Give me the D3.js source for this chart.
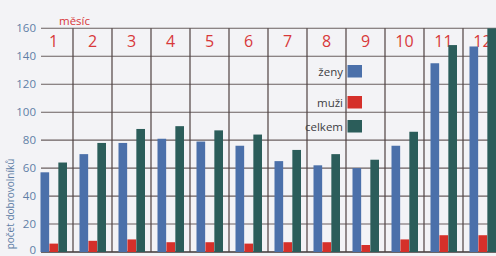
<!DOCTYPE html>
<html><head><meta charset="utf-8">
<script src="https://cdn.jsdelivr.net/npm/d3@7/dist/d3.min.js"></script>
<style>body{margin:0;background:#f3f3f6;}svg{display:block;}</style>
</head><body>
<svg id="c" width="496" height="256"></svg>
<script>
const months = ["1","2","3","4","5","6","7","8","9","10","11","12"];
const zeny   = [57, 70, 78, 81, 79, 76, 65, 62, 60, 76, 135, 147];
const muzi   = [6, 8, 9, 7, 7, 6, 7, 7, 5, 9, 12, 12];
const celkem = [64, 78, 88, 90, 87, 84, 73, 70, 66, 86, 148, 160];
const yTicks = [0, 20, 40, 60, 80, 100, 120, 140, 160];
const seriesNames = ["ženy", "muži", "celkem"];
const seriesKeys = ["zeny", "muzi", "celkem"];
const colors = {zeny:"#4b70aa", muzi:"#d5302a", celkem:"#2b5d5a"};

const svg = d3.select("#c");
svg.append("rect").attr("width",496).attr("height",256).attr("fill","#f3f3f6");

const x0 = d3.scaleBand().domain(months).range([34, 502]).paddingInner(0);
const x1 = d3.scaleBand().domain(seriesKeys).range([6.5, 33]).paddingInner(0.03);
const y = d3.scaleLinear().domain([0,160]).range([252, 28.3]);
const plotLeft = 41, plotRight = 496;

// horizontal gridlines
svg.append("g").selectAll("line").data(yTicks).join("line")
  .attr("x1", plotLeft).attr("x2", plotRight)
  .attr("y1", d=>y(d)).attr("y2", d=>y(d))
  .attr("stroke", d=> d===0 ? "#3e3636" : "#6a5f5f").attr("stroke-width", d=> d===0?1.4:1.1);

// vertical band dividers
svg.append("g").selectAll("line").data(months.slice(1)).join("line")
  .attr("x1", d=>x0(d)).attr("x2", d=>x0(d))
  .attr("y1", y(160)).attr("y2", y(0))
  .attr("stroke", "#4f4242").attr("stroke-width", 1.2);

// y tick labels
svg.append("g").selectAll("text").data(yTicks).join("text")
  .attr("x", 36).attr("y", d=>Math.min(y(d)+4, 254))
  .attr("text-anchor","end")
  .attr("font-family","'Open Sans', sans-serif").attr("font-size", 11.5)
  .attr("fill","#5f7ea6").text(d=>d);

// y axis title
svg.append("text")
  .attr("transform","translate(14,204) rotate(-90)")
  .attr("text-anchor","middle")
  .attr("font-family","'Open Sans', sans-serif").attr("font-size", 10)
  .attr("fill","#5f7ea6").text("počet dobrovolníků");

// month labels
svg.append("g").selectAll("text").data(months).join("text")
  .attr("x", d=>x0(d)+x0.bandwidth()/2).attr("y", 47)
  .attr("text-anchor","middle")
  .attr("font-family","'Open Sans', sans-serif").attr("font-size", 16)
  .attr("fill","#d8383a").text(d=>d);

svg.append("text").attr("x", 59).attr("y", 25)
  .attr("font-family","'Open Sans', sans-serif").attr("font-size", 11.5)
  .attr("fill","#d8383a").text("měsíc");

// bars
const data = months.map((m,i)=>({m, zeny:zeny[i], muzi:muzi[i], celkem:celkem[i]}));
const g = svg.append("g");
data.forEach(d=>{
  seriesKeys.forEach(k=>{
    g.append("rect")
      .attr("x", x0(d.m)+x1(k)).attr("width", x1.bandwidth())
      .attr("y", y(d[k])).attr("height", y(0)-y(d[k]))
      .attr("fill", colors[k]);
  });
});

// legend
const legY = [65, 96, 120];
seriesKeys.forEach((k,i)=>{
  svg.append("rect").attr("x",347.5).attr("y",legY[i]).attr("width",14.5).attr("height",12.5)
    .attr("fill", colors[k]);
  svg.append("text").attr("x",343).attr("y",legY[i]+11)
    .attr("text-anchor","end")
    .attr("font-family","'Open Sans', sans-serif").attr("font-size", 11.5)
    .attr("fill","#3e3e44").text(seriesNames[i]);
});
</script>
</body></html>
